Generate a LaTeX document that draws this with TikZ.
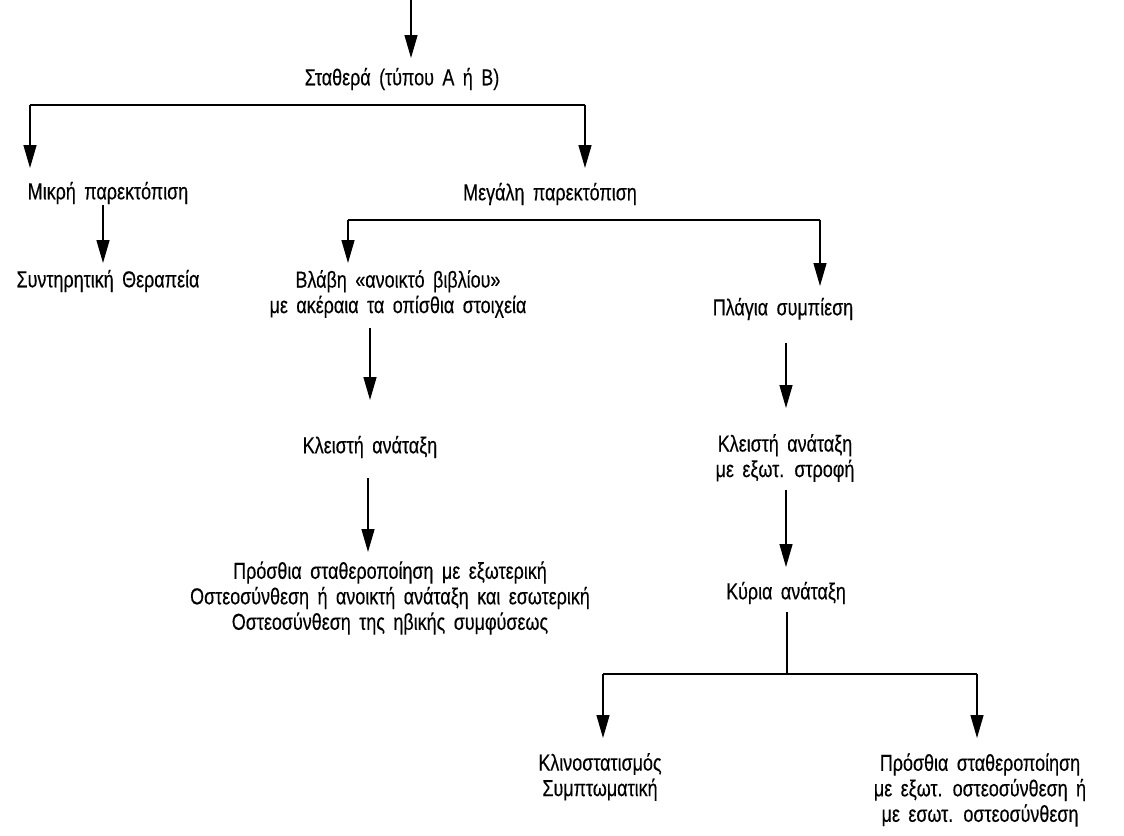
\documentclass[tikz,border=0pt]{standalone}
\usepackage{fontspec}
\setmainfont[FakeStretch=0.78,WordSpace=1.7,FakeBold=0.3]{Liberation Sans}
\usetikzlibrary{arrows.meta}
\begin{document}
\begin{tikzpicture}[x=1pt,y=-1pt,
  lbl/.style={inner sep=0pt,align=center,font=\fontsize{23}{25.5}\selectfont},
  ln/.style={line width=1.4pt},
  arr/.style={ln,-{Triangle[length=23pt,width=13pt]}}]
\useasboundingbox (0,0) rectangle (1124,835);
% nodes
\node[lbl] (stab) at (402,79) {Σταθερά (τύπου Α ή Β)};
\node[lbl] (mikri) at (108,193) {Μικρή παρεκτόπιση};
\node[lbl] (megali) at (550,194) {Μεγάλη παρεκτόπιση};
\node[lbl] (syntir) at (108,281) {Συντηρητική Θεραπεία};
\node[lbl] (vlavi) at (398,294) {Βλάβη «ανοικτό βιβλίου»\\με ακέραια τα οπίσθια στοιχεία};
\node[lbl] (plagia) at (783,309) {Πλάγια συμπίεση};
\node[lbl] (kleisti) at (370,447) {Κλειστή ανάταξη};
\node[lbl] (kleisti2) at (785,458) {Κλειστή ανάταξη\\με εξωτ. στροφή};
\node[lbl] (prosthia) at (390,598) {Πρόσθια σταθεροποίηση με εξωτερική\\Οστεοσύνθεση ή ανοικτή ανάταξη και εσωτερική\\Οστεοσύνθεση της ηβικής συμφύσεως};
\node[lbl] (kyria) at (786,593) {Κύρια ανάταξη};
\node[lbl] (klino) at (600,777) {Κλινοστατισμός\\Συμπτωματική};
\node[lbl] (prosthia2) at (980,790) {Πρόσθια σταθεροποίηση\\με εξωτ. οστεοσύνθεση ή\\με εσωτ. οστεοσύνθεση};
% connector end points
\coordinate (in0) at (411,0);
\coordinate (stab-in) at (411,58);
\coordinate (s1) at (30,105);
\coordinate (s2) at (585,105);
\coordinate (mikri-in) at (30,168);
\coordinate (megali-in) at (585,168);
\coordinate (mikri-out) at (103,205);
\coordinate (syntir-in) at (103,263);
\coordinate (m1) at (348,220);
\coordinate (m2) at (820,220);
\coordinate (vlavi-in) at (348,263);
\coordinate (plagia-in) at (820,286);
\coordinate (vlavi-out) at (370,328);
\coordinate (kleisti-in) at (370,400);
\coordinate (plagia-out) at (786,343);
\coordinate (kleisti2-in) at (786,408);
\coordinate (kleisti-out) at (368,478);
\coordinate (prosthia-in) at (368,552);
\coordinate (kleisti2-out) at (786,490);
\coordinate (kyria-in) at (786,567);
\coordinate (kyria-out) at (787,612);
\coordinate (k0) at (787,674);
\coordinate (k1) at (603,674);
\coordinate (k2) at (977,674);
\coordinate (klino-in) at (603,738);
\coordinate (prosthia2-in) at (977,738);
% connectors
\draw[arr] (in0) -- (stab-in);
\draw[ln] (s1) -- (s2);
\draw[arr] (s1) -- (mikri-in);
\draw[arr] (s2) -- (megali-in);
\draw[arr] (mikri-out) -- (syntir-in);
\draw[ln] (m1) -- (m2);
\draw[arr] (m1) -- (vlavi-in);
\draw[arr] (m2) -- (plagia-in);
\draw[arr] (vlavi-out) -- (kleisti-in);
\draw[arr] (plagia-out) -- (kleisti2-in);
\draw[arr] (kleisti-out) -- (prosthia-in);
\draw[arr] (kleisti2-out) -- (kyria-in);
\draw[ln] (kyria-out) -- (k0);
\draw[ln] (k1) -- (k2);
\draw[arr] (k1) -- (klino-in);
\draw[arr] (k2) -- (prosthia2-in);
\end{tikzpicture}
\end{document}
